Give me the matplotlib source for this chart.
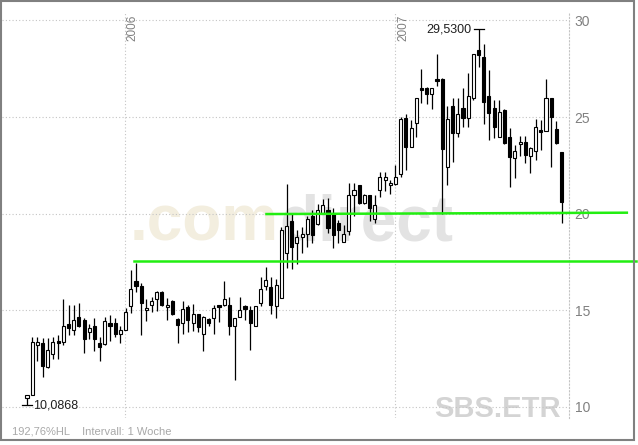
import numpy as np
import pandas as pd
import matplotlib
matplotlib.use('Agg')
import matplotlib.pyplot as plt
import matplotlib.dates as mdates
from matplotlib.patches import Rectangle

plt.rcParams['font.family'] = ['Liberation Sans', 'DejaVu Sans']

# weekly candles SBS.ETR, week starts on monday
weeks = pd.date_range('2005-08-22', periods=104, freq='W-MON')

opens = [10.45, 10.6, 13.2, 13.3, 12.07, 12.74, 13.4, 13.36, 14.3, 14.0,
         14.65, 14.5, 13.9, 14.2, 13.3, 13.26, 14.35, 14.35, 13.8, 14.0,
         15.2, 16.5, 16.25, 15.0, 15.3, 15.6, 15.95, 15.15, 15.5, 14.55,
         14.35, 15.15, 14.35, 14.8, 13.8, 14.55, 14.6, 15.25, 15.25, 15.3,
         14.2, 14.65, 15.2, 15.0, 14.2, 15.4, 16.25, 16.2, 15.2, 15.65,
         17.95, 19.6, 18.5, 18.8, 18.95, 19.9, 19.45, 20.0, 20.2, 20.0,
         19.5, 18.55, 19.1, 20.95, 21.5, 20.55, 20.95, 19.7, 21.2, 21.75,
         21.5, 21.55, 22.05, 24.95, 23.45, 24.7, 26.5, 26.5, 26.2, 26.95,
         26.95, 22.4, 25.55, 24.15, 25.45, 24.95, 26.0, 28.45, 28.1, 26.1,
         25.45, 23.95, 25.35, 23.95, 22.9, 23.6, 23.7, 23.0, 23.25, 24.3,
         24.3, 26.0, 24.4, 23.2]
highs = [10.6, 13.6, 13.6, 13.57, 13.55, 13.6, 13.7, 15.6, 15.3, 15.3,
         15.4, 14.6, 14.3, 14.6, 13.6, 14.65, 14.75, 14.6, 14.2, 15.1,
         17.1, 17.45, 16.4, 15.6, 15.7, 16.0, 16.0, 15.65, 15.55, 14.6,
         15.5, 15.3, 15.35, 14.8, 14.7, 14.6, 15.3, 15.3, 16.5, 15.7,
         14.6, 15.7, 15.3, 15.2, 15.2, 16.7, 17.25, 16.7, 16.6, 19.3,
         21.55, 20.0, 19.15, 19.3, 19.9, 20.2, 20.5, 20.75, 20.8, 20.3,
         19.65, 19.4, 21.6, 21.6, 21.5, 21.0, 20.95, 20.95, 22.15, 22.15,
         21.75, 22.5, 25.0, 25.15, 24.85, 26.0, 27.5, 26.55, 26.5, 28.25,
         27.0, 25.55, 26.0, 26.0, 26.5, 27.3, 28.25, 29.53, 28.8, 27.45,
         25.9, 25.9, 25.4, 24.45, 23.55, 24.0, 24.0, 23.45, 24.9, 24.85,
         26.95, 26.0, 24.8, 23.2]
lows = [10.0868, 10.6, 12.4, 11.55, 12.0, 12.5, 12.5, 13.2, 13.7, 13.7,
        14.15, 12.8, 13.5, 12.9, 12.4, 13.2, 13.4, 13.6, 13.3, 14.0,
        14.85, 15.95, 13.7, 14.45, 14.9, 14.95, 15.2, 14.5, 14.75, 13.3,
        13.8, 13.9, 13.95, 13.9, 12.9, 14.2, 13.8, 14.4, 15.2, 13.7,
        11.4, 14.65, 14.5, 12.95, 14.2, 15.2, 16.05, 14.8, 14.6, 15.65,
        17.2, 17.15, 17.4, 17.95, 18.3, 18.5, 19.4, 20.0, 19.0, 18.2,
        18.5, 18.55, 18.9, 19.9, 20.5, 20.5, 19.6, 19.5, 20.85, 21.15,
        21.0, 21.5, 21.9, 22.25, 23.45, 23.95, 25.7, 25.65, 25.4, 26.6,
        20.0, 21.5, 22.65, 23.95, 24.5, 24.5, 25.9, 27.6, 24.65, 23.8,
        23.9, 23.95, 23.6, 21.4, 21.85, 23.0, 22.6, 22.1, 22.8, 23.3,
        24.3, 22.4, 23.6, 19.5]
closes = [10.6, 13.36, 13.35, 12.1, 12.95, 13.36, 13.3, 14.2, 14.1, 14.5,
          14.2, 13.5, 14.1, 13.5, 13.1, 14.45, 14.2, 13.8, 14.0, 14.9,
          16.1, 16.25, 15.4, 15.1, 15.5, 15.95, 15.3, 15.3, 14.8, 14.25,
          15.05, 14.5, 14.8, 14.15, 14.65, 14.35, 15.1, 15.15, 15.6, 14.2,
          14.6, 15.0, 15.05, 14.35, 15.2, 16.1, 16.55, 15.3, 16.3, 19.15,
          19.35, 18.3, 18.8, 18.95, 19.7, 18.9, 20.2, 20.45, 19.25, 18.9,
          19.15, 18.95, 20.95, 21.2, 20.55, 20.95, 20.3, 20.45, 21.9, 21.9,
          21.6, 21.9, 24.9, 23.45, 24.45, 26.0, 26.4, 26.2, 26.5, 26.85,
          23.35, 24.9, 24.15, 25.15, 24.95, 26.1, 28.25, 28.2, 25.8, 25.2,
          24.5, 25.25, 23.65, 22.95, 23.25, 23.7, 23.05, 23.4, 24.5, 24.25,
          26.0, 25.0, 23.65, 20.6]

# green trend lines drawn into the chart
line_levels = [(19.98, 20.05), (17.53, 17.53)]
line_starts = ['2006-07-11', '2006-01-13']
line_ends = ['2007-11-09', '2007-11-21']

price_ticks = [10, 15, 20, 25, 30]
year_marks = ['2006-01-01', '2007-01-01']

grid_col = '#c4c4c4'
txt_col = '#808080'

fig = plt.figure(figsize=(6.38, 4.45), dpi=100)
W, H = 638.0, 445.0
ax = fig.add_axes([2 / W, 27 / H, 567 / W, 405 / H])

x = mdates.date2num(weeks)
o = np.array(opens); c = np.array(closes)
hi = np.array(highs); lo = np.array(lows)

ax.vlines(x, lo, hi, color='black', lw=0.9, zorder=3)
up = c >= o
body = np.maximum(np.abs(c - o), 0.08)
ax.bar(x[up], body[up], bottom=np.minimum(o, c)[up], width=4.2,
       facecolor='white', edgecolor='black', lw=0.8, zorder=4)
ax.bar(x[~up], body[~up], bottom=np.minimum(o, c)[~up], width=4.2,
       facecolor='black', edgecolor='black', lw=0.8, zorder=4)

ax.set_xlim(x[0] - 33.7, x[0] + 731.0)
ax.set_ylim(9.43, 30.38)

# grid
for p in price_ticks:
    ax.axhline(p, color=grid_col, lw=0.8, ls=(0, (1, 2)), zorder=1)
for d in year_marks:
    xd = mdates.date2num(pd.Timestamp(d))
    ax.axvline(xd, color=grid_col, lw=0.8, ls=(0, (1, 2)), zorder=1)
    ax.text(xd + 2.5, 30.3, d[:4], rotation=90, ha='left', va='top',
            fontsize=8.5, color=txt_col)

for s in ['top', 'left', 'bottom']:
    ax.spines[s].set_visible(False)
ax.spines['right'].set_color(grid_col)
ax.spines['right'].set_linestyle((0, (1, 2)))
ax.spines['right'].set_linewidth(0.8)

ax.set_xticks([])
ax.yaxis.tick_right()
ax.set_yticks(price_ticks)
ax.set_yticklabels([str(p) for p in price_ticks])
ax.tick_params(axis='y', length=0, pad=4, labelsize=10, labelcolor=txt_col)

# watermarks
wm1 = ax.text(128 / 567, 0.405, '.com', transform=ax.transAxes, fontsize=46,
              fontweight='bold', color='#f3eedf', ha='left', va='bottom',
              zorder=0)
ax.annotate('direct', xy=(1, 0), xycoords=wm1, fontsize=46,
            fontweight='bold', color='#e3e3e3', ha='left', va='bottom',
            zorder=0)
ax.text(0.985, 0.003, 'SBS.ETR', transform=ax.transAxes, fontsize=21,
        fontweight='bold', color='#d4d4d4', ha='right', va='baseline',
        zorder=0)

# support lines
for (y0, y1), s, e in zip(line_levels, line_starts, line_ends):
    xs = mdates.date2num([pd.Timestamp(s), pd.Timestamp(e)])
    ax.plot(xs, [y0, y1], color='#22ee11', lw=1.8, clip_on=False, zorder=5)

# high / low markers
ih = int(np.argmax(hi))
ax.plot([x[ih] - 6, x[ih] + 8], [hi[ih], hi[ih]], color='black', lw=0.9, zorder=5)
ax.text(x[ih] - 9, hi[ih], f'{hi[ih]:.4f}'.replace('.', ','), ha='right',
        va='center', fontsize=9, color='#202020')
il = int(np.argmin(lo))
ax.plot([x[il] - 7, x[il] + 7], [lo[il], lo[il]], color='black', lw=0.9, zorder=5)
ax.text(x[il] + 8, lo[il], f'{lo[il]:.4f}'.replace('.', ','), ha='left',
        va='center', fontsize=9, color='#202020')

fig.text(12 / W, 1 - 432 / H, '192,76%HL    Intervall: 1 Woche', fontsize=8,
         color='#a8a8a8', ha='left', va='center')

fig.patches.append(Rectangle((0.5 / W, 5 / H), 633 / W, 439.5 / H,
                             transform=fig.transFigure, fill=False,
                             edgecolor='#808080', lw=1.5))

fig.savefig('out.png', dpi=100)
